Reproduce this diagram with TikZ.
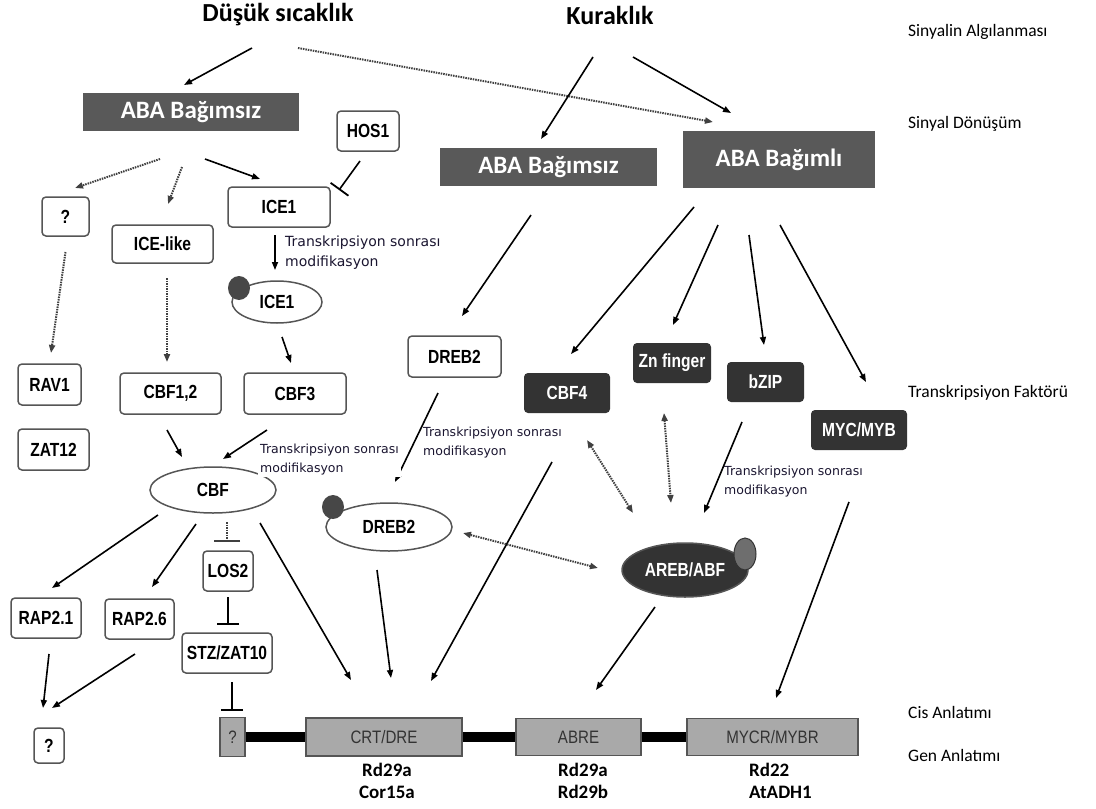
\documentclass[tikz,border=0pt]{standalone}
\usepackage{fontspec}
\setmainfont{Carlito}
\newfontfamily\boxfont{Liberation Sans}[FakeStretch=0.82]
\newfontfamily\genefont{Liberation Sans}[FakeStretch=0.84]
\newfontfamily\notefont{DejaVu Sans}
\usepackage{tikz}
\usetikzlibrary{arrows.meta,shapes.geometric}
\definecolor{abagray}{HTML}{595959}
\definecolor{tfdark}{HTML}{333333}
\definecolor{genegray}{HTML}{A9A9A9}
\definecolor{edgegray}{HTML}{555555}
\definecolor{notecol}{HTML}{1A1530}
\definecolor{blobgray}{HTML}{6E6E6E}

\begin{document}
\begin{tikzpicture}[x=1pt,y=-1pt,>={Triangle[length=8pt,width=6pt]},
  every node/.style={inner sep=0pt,align=center},
  title/.style={font=\fontsize{26}{28}\selectfont\bfseries},
  level/.style={anchor=west,font=\fontsize{17.5}{20}\selectfont},
  aba/.style={fill=abagray,text=white,font=\fontsize{25}{28}\selectfont\bfseries},
  factor/.style={draw=edgegray,line width=1.5pt,rounded corners=4pt,fill=white,font=\boxfont\fontsize{19}{21}\selectfont\bfseries},
  tf/.style={fill=tfdark,text=white,rounded corners=4pt,font=\boxfont\fontsize{19}{21}\selectfont\bfseries},
  protein/.style={ellipse,draw=edgegray,line width=1.5pt,font=\boxfont\fontsize{19}{21}\selectfont\bfseries},
  blob/.style={ellipse,fill=tfdark!90,minimum width=22pt,minimum height=24pt},
  cis/.style={draw=edgegray,line width=1.2pt,fill=genegray,text=black!80,font=\genefont\fontsize{18}{20}\selectfont},
  genes/.style={font=\fontsize{19}{22}\selectfont\bfseries},
  note/.style={anchor=west,text=notecol,align=left,font=\notefont\fontsize{12.5}{19.5}\selectfont},
  dnabar/.style={line width=10pt},
  to/.style={->,line width=1.6pt},
  dots/.style={->,line width=2pt,black!75,dash pattern=on 1.5pt off 1pt},
  both/.style={dots,<->},
  block/.style={-{Bar[width=22pt,line width=1.8pt]},line width=1.6pt},
  dotblock/.style={dots,-{Bar[width=26pt,line width=1.8pt]}}]

  \useasboundingbox (0,0) rectangle (1096,809);

  \node[title] (dusuk) at (278,15) {Düşük sıcaklık};
  \node[title] (kurak) at (610,15) {Kuraklık};

  \node[level] (lvl1) at (908,32) {Sinyalin Algılanması};
  \node[level] (lvl2) at (908,124) {Sinyal Dönüşüm};
  \node[level] (lvl3) at (908,393) {Transkripsiyon Faktörü};
  \node[level] (lvl4) at (908,712) {Cis Anlatımı};
  \node[level] (lvl5) at (908,755) {Gen Anlatımı};

  \node[aba,minimum width=216pt,minimum height=38pt] (abaL) at (191,112) {ABA Bağımsız};
  \node[aba,minimum width=217pt,minimum height=38pt] (abaR) at (548.5,167) {ABA Bağımsız};
  \node[aba,minimum width=192pt,minimum height=57pt] (abaD) at (779,159.5) {ABA Bağımlı};

  \node[factor,minimum width=62pt,minimum height=40pt] (hos1) at (368,131) {HOS1};
  \node[factor,minimum width=47pt,minimum height=39pt] (qTop) at (65.5,216.5) {?};
  \node[factor,minimum width=101pt,minimum height=38pt] (icelike) at (162.5,244) {ICE-like};
  \node[factor,minimum width=102pt,minimum height=40pt] (ice1) at (279,207) {ICE1};
  \node[protein,minimum width=90pt,minimum height=42pt] (ice1e) at (277,302) {ICE1};
  \node[factor,minimum width=63pt,minimum height=41pt] (rav1) at (49.5,384.5) {RAV1};
  \node[factor,minimum width=71pt,minimum height=41pt] (zat12) at (53.5,449.5) {ZAT12};
  \node[factor,minimum width=101pt,minimum height=41pt] (cbf12) at (170.5,393.5) {CBF1,2};
  \node[factor,minimum width=102pt,minimum height=41pt] (cbf3) at (295,393.5) {CBF3};
  \node[protein,minimum width=126pt,minimum height=46pt] (cbf) at (213,490) {CBF};
  \node[factor,minimum width=70pt,minimum height=40pt] (rap21) at (46,618) {RAP2.1};
  \node[factor,minimum width=69pt,minimum height=40pt] (rap26) at (139.5,619) {RAP2.6};
  \node[factor,minimum width=50pt,minimum height=40pt] (los2) at (228,571) {LOS2};
  \node[factor,minimum width=90pt,minimum height=40pt] (stz) at (227,653) {STZ/ZAT10};
  \node[factor,minimum width=30pt,minimum height=35pt] (qBot) at (49,745.5) {?};

  \node[factor,minimum width=93pt,minimum height=41pt] (dreb2) at (454.5,356.5) {DREB2};
  \node[tf,minimum width=86pt,minimum height=40pt] (cbf4) at (567,393) {CBF4};
  \node[tf,minimum width=78pt,minimum height=40pt] (znf) at (672,363) {Zn finger};
  \node[tf,minimum width=77pt,minimum height=40pt] (bzip) at (765.5,382) {bZIP};
  \node[tf,minimum width=96pt,minimum height=40pt] (mycmyb) at (859,430) {MYC/MYB};
  \node[protein,minimum width=126pt,minimum height=48pt] (dreb2e) at (389,527) {DREB2};
  \node[protein,fill=tfdark,text=white,minimum width=126pt,minimum height=54pt] (areb) at (685,570) {AREB/ABF};

  \node[blob] (ice1dot) at ([shift={(-38,-14)}]ice1e.center) {};
  \node[blob] (dreb2dot) at ([shift={(-56,-20)}]dreb2e.center) {};
  \node[blob,fill=blobgray,draw=tfdark,line width=1pt,minimum height=32pt] (arebdot) at ([shift={(60,-16)}]areb.center) {};

  \node[cis,minimum width=25pt,minimum height=39pt] (gq) at (232.5,737) {?};
  \node[cis,minimum width=156pt,minimum height=38pt] (crt) at (384,737) {CRT/DRE};
  \node[cis,minimum width=125pt,minimum height=37pt] (abre) at (578.5,737) {ABRE};
  \node[cis,minimum width=171pt,minimum height=37pt] (mycr) at (772.5,737) {MYCR/MYBR};
  \draw[dnabar] (gq) -- (crt) (crt) -- (abre) (abre) -- (mycr);

  \node[genes] (genes1) at (387,781) {Rd29a\\Cor15a};
  \node[genes] (genes2) at (583,781) {Rd29a\\Rd29b};
  \node[genes,anchor=west,align=left] (genes3) at (749,781) {Rd22\\AtADH1};

  \draw[to] ([shift={(-26,33)}]dusuk.center) -- ([shift={(-7,-27)}]abaL.center);
  \draw[dots] ([shift={(20,33)}]dusuk.center) -- ([shift={(-66,-37.5)}]abaD.center);
  \draw[to] ([shift={(-17,42)}]kurak.center) -- ([shift={(-7.5,-28)}]abaR.center);
  \draw[to] ([shift={(23,42)}]kurak.center) -- ([shift={(-48,-46.5)}]abaD.center);

  \draw[dots] ([shift={(-31,47)}]abaL.center) -- ([shift={(9.5,-28.5)}]qTop.center);
  \draw[dots] ([shift={(-9,55)}]abaL.center) -- ([shift={(5.5,-40)}]icelike.center);
  \draw[to] ([shift={(14,47)}]abaL.center) -- ([shift={(-19,-28)}]ice1.center);
  \draw[block] ([shift={(-8,30)}]hos1.center) -- ([shift={(60,-17)}]ice1.center);
  \draw[to] ([shift={(-4,28)}]ice1.center) -- ([shift={(-2,-32)}]ice1e.center);
  \draw[dots] ([shift={(0,35.5)}]qTop.center) -- ([shift={(1.5,-31.5)}]rav1.center);
  \draw[dots] ([shift={(4.5,34)}]icelike.center) -- ([shift={(-3.5,-31.5)}]cbf12.center);
  \draw[to] ([shift={(5,35)}]ice1e.center) -- ([shift={(-4,-30.5)}]cbf3.center);
  \draw[to] ([shift={(-3.5,36.5)}]cbf12.center) -- ([shift={(-31,-33)}]cbf.center);
  \draw[to] ([shift={(-28,36.5)}]cbf3.center) -- ([shift={(10,-31)}]cbf.center);

  \draw[to] ([shift={(-55,25)}]cbf.center) -- ([shift={(6,-30)}]rap21.center);
  \draw[to] ([shift={(-17,34)}]cbf.center) -- ([shift={(12.5,-32)}]rap26.center);
  \draw[dotblock] ([shift={(14,32)}]cbf.center) -- ([shift={(-1,-29)}]los2.center);
  \draw[to] ([shift={(47,33)}]cbf.center) -- ([shift={(-33,-57)}]crt.center);
  \draw[block] ([shift={(0,26)}]los2.center) -- ([shift={(1,-28)}]stz.center);
  \draw[block] ([shift={(5,29)}]stz.center) -- ([shift={(-0.5,-26)}]gq.center);
  \draw[to] ([shift={(3,36)}]rap21.center) -- ([shift={(-6,-37.5)}]qBot.center);
  \draw[to] ([shift={(-4.5,35)}]rap26.center) -- ([shift={(3,-37.5)}]qBot.center);

  \draw[to] ([shift={(-17.5,48)}]abaR.center) -- ([shift={(7.5,-40.5)}]dreb2.center);
  \draw[to] ([shift={(-85,47.5)}]abaD.center) -- ([shift={(4,-39)}]cbf4.center);
  \draw[to] ([shift={(-61,65.5)}]abaD.center) -- ([shift={(1,-38)}]znf.center);
  \draw[to] ([shift={(-30,75.5)}]abaD.center) -- ([shift={(-1.5,-37)}]bzip.center);
  \draw[to] ([shift={(1,65.5)}]abaD.center) -- ([shift={(7,-48)}]mycmyb.center);

  \draw[to] ([shift={(-16.5,36.5)}]dreb2.center) -- ([shift={(6,-45)}]dreb2e.center);
  \draw[to] ([shift={(-15,69)}]cbf4.center) -- ([shift={(47,-56)}]crt.center);
  \draw[both] ([shift={(20,47)}]cbf4.center) -- ([shift={(-52,-57)}]areb.center);
  \draw[both] ([shift={(-8,50)}]znf.center) -- ([shift={(-14,-67)}]areb.center);
  \draw[to] ([shift={(-23.5,40)}]bzip.center) -- ([shift={(19,-57)}]areb.center);
  \draw[both] ([shift={(-87,-2)}]areb.center) -- ([shift={(74,6)}]dreb2e.center);
  \draw[to] ([shift={(-12,43)}]dreb2e.center) -- ([shift={(7,-59)}]crt.center);
  \draw[to] ([shift={(-30,37)}]areb.center) -- ([shift={(17.5,-47)}]abre.center);
  \draw[to] ([shift={(-10,72)}]mycmyb.center) -- ([shift={(3.5,-39)}]mycr.center);

  \node[note,font=\notefont\fontsize{14}{20}\selectfont] (noteIce) at (285,253) {Transkripsiyon sonrası\\modifikasyon};
  \node[note,fill=white,inner sep=2pt] (noteCbf) at (258,459.5) {Transkripsiyon sonrası\\modifikasyon};
  \node[note] (noteDreb) at (423,442.5) {Transkripsiyon sonrası\\modifikasyon};
  \node[note] (noteBzip) at (724,481.5) {Transkripsiyon sonrası\\modifikasyon};
\end{tikzpicture}
\end{document}
